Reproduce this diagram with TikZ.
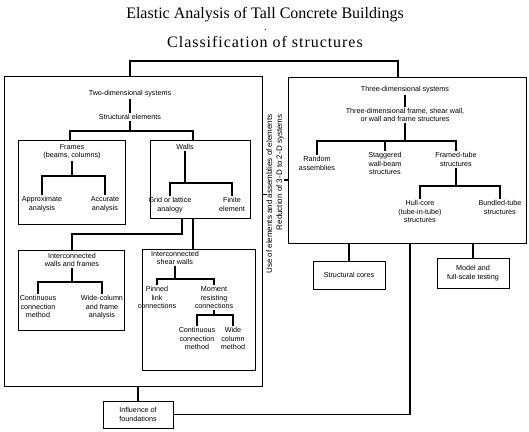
\documentclass[tikz,border=0pt]{standalone}
\usepackage{fontspec}
\setmainfont{Liberation Serif}
\newfontfamily\lblfont{Liberation Sans}
\usetikzlibrary{positioning}
\tikzset{lbl/.style={font=\lblfont\fontsize{7.2}{8.5}\selectfont, align=center, inner sep=1pt},
         boxed/.style={draw, line width=0.8pt, inner sep=0pt},
         smallbox/.style={lbl, draw, line width=0.8pt},
         every path/.style={line width=1.1pt}}

\begin{document}
\begin{tikzpicture}[x=1pt, y=-1pt]
  \useasboundingbox (0,0) rectangle (529,431);
  % heading
  \node[font=\fontsize{16}{18}\selectfont] (title) at (265,15) {Elastic Analysis of Tall Concrete Buildings};
  \node[font=\fontsize{16}{18}\selectfont\addfontfeature{LetterSpace=6}] (class) at (265,42) {Classification of structures};
  \draw[line width=0.8pt, shorten <=3pt, shorten >=3pt] (title) -- (class);
  % the two big boxes
  \node[boxed, minimum width=258pt, minimum height=310pt] (L) at (133,231) {};
  \node[boxed, minimum width=238pt, minimum height=166pt] (R) at (407,160) {};
  \draw (L.north -| 130,0) -- (130,61) -- (398,61) -- (R.north -| 398,0);
  \node[lbl, font=\lblfont\fontsize{8}{10}\selectfont, rotate=90, anchor=east, align=right] (use) at (275,113)
    {Use of elements and assemblies of elements\\Reduction of 3-D to 2-D systems};
  \draw (L.east |- use.center) -- ++(5,0);
  \draw (R.west |- 0,180) -- ++(-4,0);
  % two-dimensional systems
  \node[lbl] (twod) at (130,94) {Two-dimensional systems};
  \node[lbl] (struct) at (130,117) {Structural elements};
  \draw (twod) -- (struct);
  \draw (struct) -- (struct |- 0,131);
  \node[boxed, minimum width=107pt, minimum height=84pt] (F) at (71.5,182) {};
  \node[boxed, minimum width=100pt, minimum height=78pt] (W) at (200,179) {};
  \draw (F.north -| 70,0) -- (70,131) -- (193,131) -- (W.north -| 193,0);
  % frames
  \node[lbl] (frm) at (72,152) {Frames\\(beams, columns)};
  \draw (frm) -- (frm |- 0,176);
  \node[lbl, anchor=north] (appr) at (42,195) {Approximate\\analysis};
  \node[lbl, anchor=north] (accu) at (105,195) {Accurate\\analysis};
  \draw (appr) |- (accu |- 0,176) -- (accu);
  % walls
  \node[lbl] (wal) at (185,147) {Walls};
  \draw (wal) -- (wal |- 0,183);
  \node[lbl, anchor=north] (grid) at (170,196) {Grid or lattice\\analogy};
  \node[lbl, anchor=north] (fin) at (232,196) {Finite\\element};
  \draw (grid) |- (fin |- 0,183) -- (fin);
  \node[boxed, minimum width=106pt, minimum height=80pt] (IWF) at (71,290) {};
  \node[boxed, minimum width=113pt, minimum height=121pt] (ISW) at (198.5,309.5) {};
  \draw (W.south -| 182,0) |- (72,234) -- (IWF.north -| 72,0);
  \draw (W.south -| 193,0) -- (ISW.north -| 193,0);
  % interconnected walls and frames
  \node[lbl] (iwft) at (72,260) {Interconnected\\walls and frames};
  \draw (iwft) -- (iwft |- 0,282);
  \node[lbl, anchor=north] (cc1) at (38,294) {Continuous\\connection\\method};
  \node[lbl, anchor=north] (wcf) at (102,294) {Wide-column\\and frame\\analysis};
  \draw (cc1) |- (wcf |- 0,282) -- (wcf);
  % interconnected shear walls
  \node[lbl] (iswt) at (175,258) {Interconnected\\shear walls};
  \draw (iswt) -- (iswt |- 0,279);
  \node[lbl, anchor=north] (pin) at (157,285) {Pinned\\link\\connections};
  \node[lbl, anchor=north] (mom) at (214,285) {Moment\\resisting\\connections};
  \draw (pin) |- (mom |- 0,279) -- (mom);
  \draw (mom) -- (mom |- 0,315);
  \node[lbl, anchor=north] (cc2) at (197,326) {Continuous\\connection\\method};
  \node[lbl, anchor=north] (wcm) at (233,326) {Wide\\column\\method};
  \draw (cc2) |- (wcm |- 0,315) -- (wcm);
  % foundations
  \node[smallbox, minimum width=70pt, minimum height=27pt] (I) at (138,414.5) {Influence of\\foundations};
  \draw (L.south -| I) -- (I);
  \draw (I) -| (R.south -| 410,0);
  % three-dimensional systems
  \node[lbl] (threed) at (405,90) {Three-dimensional systems};
  \node[lbl] (tdf) at (405,115) {Three-dimensional frame, shear wall,\\or wall and frame structures};
  \draw (threed) -- (tdf);
  \draw (tdf) -- (tdf |- 0,141);
  \node[lbl, anchor=north] (rand) at (317,155) {Random\\assemblies};
  \node[lbl, anchor=north] (stag) at (385,151) {Staggered\\wall-beam\\structures};
  \node[lbl, anchor=north] (ftube) at (456,151) {Framed-tube\\structures};
  \draw (rand) |- (ftube |- 0,141) -- (ftube);
  \draw (stag) -- (stag |- 0,141);
  \draw (ftube) -- (ftube |- 0,186);
  \node[lbl, anchor=north] (hull) at (420,199) {Hull-core\\(tube-in-tube)\\structures};
  \node[lbl, anchor=north] (bund) at (500,199) {Bundled-tube\\structures};
  \draw (hull) |- (bund |- 0,186) -- (bund);
  \node[smallbox, minimum width=72pt, minimum height=28pt] (S) at (349,275) {Structural cores};
  \node[smallbox, minimum width=72pt, minimum height=30pt] (M) at (473,273) {Model and\\full-scale testing};
  \draw (R.south -| S) -- (S);
  \draw (R.south -| M) -- (M);
\end{tikzpicture}
\end{document}
